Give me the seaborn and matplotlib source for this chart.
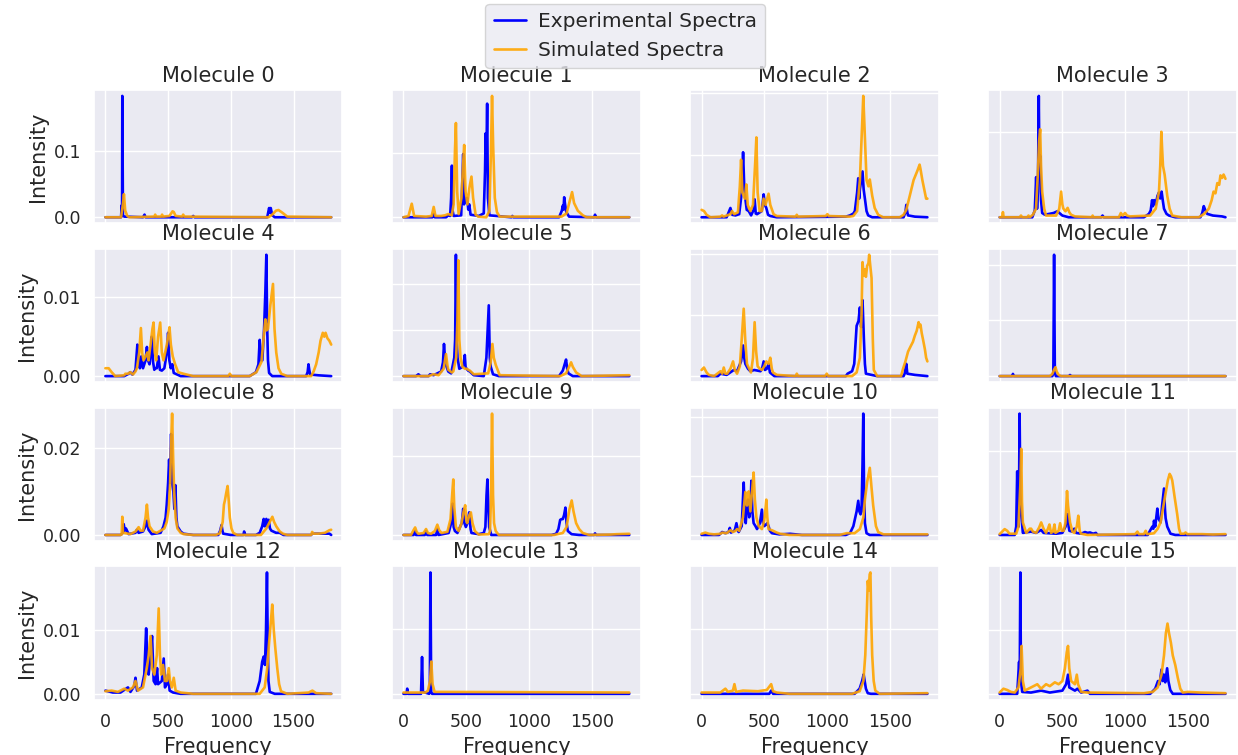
import matplotlib
matplotlib.use('Agg')
import pandas as pd
import matplotlib.pyplot as plt
import seaborn as sns
from matplotlib.ticker import MaxNLocator

# (frequency, intensity) points
exp_0 = [(0, 0), (125, 0), (130, 0.018), (133, 0.002), (135, 0.184), (140, 0.003), (150, 0.001), (300, 0), (312, 0.004), (320, 0), (690, 0), (700, 0.002), (710, 0), (1290, 0), (1305, 0.014), (1312, 0.007), (1318, 0.014), (1330, 0.003), (1350, 0), (1800, 0)]
sim_0 = [(0, 0), (125, 0), (140, 0.02), (148, 0.035), (158, 0.01), (175, 0.002), (190, 0), (390, 0.001), (397, 0.004), (405, 0.001), (445, 0.001), (452, 0.004), (460, 0.001), (510, 0.002), (525, 0.006), (535, 0.009), (545, 0.008), (560, 0.002), (612, 0.001), (620, 0.004), (630, 0.001), (1300, 0), (1330, 0.004), (1360, 0.01), (1380, 0.011), (1410, 0.007), (1450, 0.001), (1800, 0)]

exp_1 = [(0, 0), (230, 0), (241, 0.005), (250, 0), (340, 0), (357, 0.003), (372, 0.002), (380, 0.03), (386, 0.08), (392, 0.01), (400, 0.002), (460, 0.003), (470, 0.06), (476, 0.098), (483, 0.02), (492, 0.03), (500, 0.025), (508, 0.03), (516, 0.012), (524, 0.02), (535, 0.004), (600, 0.002), (640, 0.006), (650, 0.07), (655, 0.13), (660, 0.08), (667, 0.176), (673, 0.03), (685, 0.003), (860, 0), (868, 0.002), (876, 0), (1240, 0), (1262, 0.01), (1270, 0.018), (1276, 0.012), (1281, 0.031), (1288, 0.02), (1298, 0.008), (1320, 0.001), (1520, 0), (1527, 0.004), (1535, 0), (1800, 0)]
sim_1 = [(0, 0), (40, 0.002), (66, 0.021), (85, 0.002), (180, 0.001), (225, 0.002), (241, 0.016), (255, 0.002), (300, 0.002), (330, 0.003), (357, 0.005), (385, 0.003), (400, 0.02), (410, 0.1), (418, 0.146), (428, 0.04), (440, 0.005), (462, 0.03), (475, 0.08), (484, 0.112), (495, 0.04), (510, 0.02), (525, 0.045), (542, 0.063), (555, 0.03), (575, 0.004), (595, 0.001), (660, 0), (685, 0.01), (697, 0.1), (706, 0.188), (715, 0.11), (728, 0.03), (745, 0.008), (767, 0.001), (1260, 0.001), (1300, 0.006), (1325, 0.025), (1344, 0.039), (1360, 0.022), (1390, 0.01), (1430, 0.003), (1460, 0), (1800, 0)]

exp_2 = [(0, 0), (200, 0), (230, 0.015), (245, 0.004), (270, 0.003), (300, 0.005), (320, 0.04), (331, 0.105), (340, 0.05), (349, 0.03), (360, 0.012), (376, 0.01), (395, 0.003), (415, 0.012), (423, 0.029), (432, 0.006), (442, 0.005), (480, 0.01), (495, 0.037), (505, 0.02), (516, 0.015), (530, 0.004), (548, 0.002), (600, 0), (1150, 0.001), (1183, 0.003), (1210, 0.006), (1222, 0.01), (1240, 0.04), (1249, 0.063), (1256, 0.03), (1262, 0.045), (1283, 0.074), (1292, 0.045), (1302, 0.03), (1315, 0.01), (1328, 0.003), (1360, 0), (1610, 0), (1625, 0.008), (1632, 0.02), (1640, 0.008), (1646, 0.003), (1700, 0.001), (1800, 0)]
sim_2 = [(0, 0.012), (20, 0.01), (40, 0.004), (71, 0), (150, 0.001), (164, 0.003), (175, 0.001), (230, 0.005), (243, 0.01), (260, 0.005), (290, 0.008), (305, 0.05), (315, 0.093), (325, 0.04), (345, 0.03), (357, 0.053), (368, 0.02), (389, 0.01), (410, 0.02), (428, 0.09), (437, 0.129), (447, 0.04), (463, 0.01), (480, 0.01), (495, 0.03), (510, 0.02), (534, 0.038), (548, 0.02), (574, 0.005), (600, 0.002), (750, 0.001), (759, 0.004), (768, 0.001), (990, 0.002), (1003, 0.005), (1015, 0.002), (1180, 0.001), (1209, 0.002), (1240, 0.01), (1262, 0.06), (1280, 0.15), (1289, 0.196), (1298, 0.15), (1315, 0.06), (1330, 0.05), (1341, 0.061), (1360, 0.035), (1380, 0.015), (1408, 0.004), (1447, 0), (1580, 0), (1610, 0.004), (1632, 0.012), (1660, 0.035), (1690, 0.06), (1720, 0.075), (1738, 0.085), (1745, 0.078), (1760, 0.06), (1775, 0.045), (1790, 0.03), (1800, 0.03)]

exp_3 = [(0, 0), (260, 0), (280, 0.008), (291, 0.047), (298, 0.01), (305, 0.03), (312, 0.142), (317, 0.06), (323, 0.072), (330, 0.02), (339, 0.005), (360, 0.003), (397, 0.004), (430, 0.005), (460, 0.007), (476, 0.005), (500, 0.002), (550, 0), (810, 0), (820, 0.002), (830, 0), (1150, 0), (1190, 0.004), (1204, 0.008), (1215, 0.02), (1222, 0.013), (1232, 0.02), (1244, 0.015), (1258, 0.025), (1270, 0.029), (1280, 0.022), (1291, 0.03), (1300, 0.02), (1310, 0.01), (1330, 0.004), (1350, 0.002), (1400, 0), (1600, 0), (1615, 0.005), (1627, 0.013), (1640, 0.008), (1654, 0.004), (1700, 0.002), (1773, 0.001), (1800, 0)]
sim_3 = [(0, 0), (20, 0), (26, 0.006), (32, 0), (160, 0), (170, 0.002), (180, 0), (220, 0), (230, 0.002), (240, 0), (265, 0.003), (290, 0.01), (304, 0.05), (315, 0.09), (323, 0.103), (330, 0.06), (339, 0.03), (355, 0.01), (370, 0.002), (450, 0.002), (475, 0.01), (490, 0.03), (500, 0.015), (508, 0.01), (525, 0.007), (542, 0.011), (555, 0.006), (569, 0.003), (600, 0.001), (735, 0), (741, 0.002), (748, 0), (950, 0), (966, 0.005), (980, 0.002), (1000, 0.005), (1015, 0.002), (1040, 0.001), (1200, 0.002), (1244, 0.01), (1270, 0.03), (1280, 0.06), (1289, 0.1), (1295, 0.08), (1302, 0.06), (1315, 0.05), (1336, 0.025), (1355, 0.01), (1376, 0.002), (1450, 0), (1587, 0), (1630, 0.004), (1667, 0.01), (1690, 0.02), (1705, 0.03), (1720, 0.028), (1735, 0.04), (1750, 0.038), (1760, 0.049), (1773, 0.046), (1785, 0.05), (1800, 0.045)]

exp_4 = [(0, 0), (150, 0), (185, 0.0003), (198, 0.0005), (215, 0.0002), (240, 0.0008), (255, 0.004), (265, 0.0025), (275, 0.001), (286, 0.0025), (300, 0.001), (320, 0.002), (331, 0.0037), (340, 0.002), (352, 0.0015), (362, 0.003), (370, 0.005), (380, 0.0018), (390, 0.0008), (397, 0.001), (410, 0.001), (423, 0.0025), (435, 0.0008), (450, 0.0007), (470, 0.001), (490, 0.003), (500, 0.0055), (510, 0.002), (521, 0.001), (534, 0.0015), (545, 0.0004), (600, 0), (1150, 0), (1200, 0.0005), (1220, 0.0015), (1230, 0.0046), (1240, 0.002), (1251, 0.002), (1265, 0.006), (1275, 0.0106), (1283, 0.0154), (1290, 0.006), (1296, 0.002), (1305, 0.0004), (1330, 0), (1600, 0), (1612, 0.0005), (1619, 0.0015), (1625, 0.0008), (1632, 0.0002), (1700, 0.0001), (1800, 0)]
sim_4 = [(0, 0.001), (26, 0.001), (50, 0.0005), (79, 0), (150, 0.0001), (159, 0.0003), (180, 0.0003), (198, 0.0005), (220, 0.0002), (240, 0.0006), (251, 0.001), (270, 0.003), (283, 0.0061), (293, 0.003), (304, 0.002), (320, 0.0025), (335, 0.003), (344, 0.002), (360, 0.004), (375, 0.006), (384, 0.0068), (394, 0.003), (405, 0.002), (420, 0.005), (437, 0.0068), (450, 0.003), (463, 0.002), (490, 0.004), (500, 0.005), (511, 0.0062), (522, 0.004), (537, 0.0025), (556, 0.0015), (580, 0.0005), (622, 0.0003), (700, 0), (980, 0), (992, 0.0003), (1005, 0), (1150, 0), (1204, 0.0005), (1244, 0.0018), (1262, 0.005), (1275, 0.0072), (1285, 0.0058), (1296, 0.006), (1315, 0.009), (1336, 0.0117), (1348, 0.006), (1362, 0.003), (1380, 0.001), (1402, 0.0003), (1450, 0), (1640, 0), (1660, 0.0006), (1680, 0.0015), (1700, 0.003), (1715, 0.0045), (1733, 0.0055), (1745, 0.005), (1755, 0.0055), (1770, 0.0048), (1785, 0.0045), (1800, 0.004)]

exp_5 = [(0, 0), (100, 0), (119, 0.0002), (135, 0), (200, 0), (212, 0.0002), (240, 0.0001), (300, 0.0005), (315, 0.0015), (323, 0.0035), (331, 0.002), (339, 0.0012), (357, 0.0005), (380, 0.0003), (405, 0.002), (412, 0.004), (418, 0.0132), (424, 0.004), (431, 0.002), (445, 0.0008), (470, 0.001), (482, 0.0015), (489, 0.0023), (495, 0.001), (503, 0.0008), (515, 0.0006), (529, 0.0005), (560, 0.0001), (640, 0), (661, 0.002), (680, 0.0077), (688, 0.002), (696, 0.001), (714, 0.0002), (760, 0), (1240, 0), (1270, 0.0006), (1283, 0.0012), (1296, 0.0018), (1305, 0.0008), (1315, 0.0003), (1350, 0), (1800, 0)]
sim_5 = [(0, 0), (200, 0), (238, 0.0002), (280, 0.0001), (320, 0.0008), (339, 0.0024), (350, 0.0012), (357, 0.0007), (385, 0.0004), (397, 0.0005), (420, 0.002), (430, 0.006), (437, 0.0126), (445, 0.004), (455, 0.002), (470, 0.001), (490, 0.0008), (503, 0.0008), (515, 0.0007), (529, 0.0006), (560, 0.0002), (675, 0.0003), (695, 0.0015), (709, 0.0035), (720, 0.002), (736, 0.0012), (767, 0.0001), (1250, 0), (1296, 0.0003), (1320, 0.001), (1336, 0.0015), (1350, 0.001), (1376, 0.0004), (1420, 0), (1800, 0.0001)]

exp_6 = [(0, 0), (130, 0), (151, 0.0002), (200, 0.0001), (257, 0.0005), (283, 0.0004), (315, 0.0012), (331, 0.0025), (340, 0.0015), (349, 0.001), (370, 0.0006), (389, 0.0004), (420, 0.0005), (470, 0.0004), (482, 0.0006), (495, 0.0012), (505, 0.0005), (520, 0.0006), (534, 0.001), (545, 0.0003), (580, 0), (1150, 0), (1164, 0.0002), (1200, 0.0004), (1217, 0.001), (1236, 0.0041), (1251, 0.0045), (1262, 0.0056), (1272, 0.004), (1283, 0.0062), (1294, 0.003), (1302, 0.001), (1310, 0.0002), (1400, 0), (1610, 0), (1619, 0.0002), (1632, 0.001), (1640, 0.0002), (1700, 0.0001), (1800, 0)]
sim_6 = [(0, 0.0005), (19, 0.0007), (40, 0.0003), (58, 0.0001), (100, 0), (151, 0.0004), (165, 0.0002), (177, 0.0007), (190, 0.0002), (204, 0.0002), (230, 0.0006), (251, 0.0012), (265, 0.0005), (283, 0.0002), (305, 0.0008), (320, 0.003), (336, 0.0055), (348, 0.003), (362, 0.001), (394, 0.0003), (410, 0.0015), (423, 0.0044), (435, 0.002), (447, 0.0008), (465, 0.0006), (481, 0.0005), (500, 0.0008), (516, 0.0012), (534, 0.001), (548, 0.0015), (560, 0.0006), (569, 0.0003), (600, 0.0001), (750, 0), (759, 0.0002), (770, 0), (985, 0), (998, 0.0002), (1010, 0), (1200, 0), (1236, 0.0003), (1262, 0.0015), (1275, 0.005), (1283, 0.0093), (1292, 0.0082), (1302, 0.0087), (1310, 0.0081), (1320, 0.009), (1330, 0.0092), (1336, 0.0099), (1345, 0.009), (1355, 0.008), (1365, 0.003), (1373, 0.0005), (1400, 0), (1590, 0), (1606, 0.0006), (1625, 0.0012), (1646, 0.002), (1665, 0.0024), (1685, 0.0028), (1700, 0.0033), (1715, 0.0037), (1730, 0.0044), (1738, 0.004), (1745, 0.0042), (1755, 0.0035), (1765, 0.003), (1780, 0.0022), (1790, 0.0015), (1800, 0.0012)]

exp_7 = [(0, 0), (100, 0), (106, 0.0002), (112, 0), (420, 0), (428, 0.0003), (434, 0.0109), (440, 0.0003), (448, 0), (555, 0), (561, 0.0001), (567, 0), (1800, 0)]
sim_7 = [(0, 0), (400, 0), (420, 0.0002), (435, 0.0006), (445, 0.0008), (455, 0.0004), (471, 0.0001), (490, 0), (1800, 0)]

exp_8 = [(0, 0), (120, 0), (140, 0.0005), (146, 0.0025), (155, 0.001), (164, 0.0015), (185, 0.0002), (240, 0.0005), (251, 0.0012), (265, 0.0005), (300, 0.0008), (320, 0.002), (331, 0.0033), (344, 0.0012), (370, 0.0002), (440, 0.0005), (463, 0.002), (480, 0.004), (489, 0.007), (500, 0.012), (508, 0.0174), (515, 0.012), (524, 0.0233), (532, 0.012), (542, 0.01), (550, 0.006), (558, 0.0115), (566, 0.004), (574, 0.002), (600, 0.0008), (622, 0.0003), (700, 0), (900, 0), (915, 0.001), (926, 0.0023), (933, 0.001), (939, 0.0003), (1000, 0), (1100, 0), (1106, 0.0008), (1115, 0), (1200, 0), (1230, 0.0005), (1250, 0.002), (1262, 0.0037), (1270, 0.002), (1283, 0.0037), (1292, 0.002), (1302, 0.0035), (1312, 0.0015), (1323, 0.001), (1360, 0.0005), (1389, 0.0005), (1420, 0), (1640, 0), (1648, 0.0003), (1700, 0.0003), (1786, 0.0003), (1800, 0)]
sim_8 = [(0, 0), (120, 0), (130, 0.0001), (135, 0.0042), (140, 0.0005), (200, 0.0002), (240, 0.0008), (265, 0.0018), (280, 0.001), (300, 0.001), (320, 0.004), (331, 0.007), (340, 0.004), (352, 0.002), (380, 0.0008), (410, 0.0005), (470, 0.0015), (489, 0.003), (505, 0.006), (516, 0.012), (525, 0.022), (532, 0.028), (540, 0.018), (548, 0.01), (560, 0.004), (574, 0.0015), (600, 0.0005), (622, 0.0002), (700, 0), (880, 0), (913, 0.0004), (935, 0.003), (945, 0.007), (953, 0.008), (962, 0.0095), (974, 0.0113), (983, 0.008), (992, 0.004), (1005, 0.0015), (1019, 0.0005), (1050, 0), (1240, 0), (1283, 0.0015), (1310, 0.003), (1331, 0.0042), (1345, 0.003), (1362, 0.002), (1390, 0.0008), (1415, 0.0003), (1450, 0), (1640, 0), (1648, 0.0007), (1660, 0.0003), (1700, 0.0003), (1750, 0.0005), (1786, 0.0011), (1800, 0.0012)]

exp_9 = [(0, 0), (80, 0), (93, 0.001), (100, 0), (170, 0), (180, 0.001), (190, 0), (260, 0), (270, 0.0015), (280, 0), (360, 0.0005), (380, 0.003), (392, 0.0079), (400, 0.002), (410, 0.001), (430, 0.0005), (465, 0.003), (476, 0.0066), (486, 0.003), (497, 0.002), (510, 0.003), (524, 0.0057), (535, 0.0015), (542, 0.0005), (600, 0.0002), (640, 0.0005), (653, 0.002), (662, 0.01), (669, 0.014), (676, 0.008), (683, 0.002), (700, 0), (1180, 0), (1217, 0.0003), (1235, 0.0015), (1249, 0.0038), (1260, 0.004), (1270, 0.004), (1280, 0.005), (1291, 0.0069), (1300, 0.003), (1310, 0.001), (1340, 0.0002), (1400, 0), (1520, 0), (1527, 0.0004), (1535, 0), (1800, 0)]
sim_9 = [(0, 0), (60, 0), (80, 0.0012), (93, 0.0019), (105, 0.0008), (119, 0.0003), (160, 0.0005), (180, 0.0015), (195, 0.0005), (220, 0.0003), (250, 0.001), (270, 0.0026), (285, 0.0012), (304, 0.0005), (350, 0.0008), (375, 0.004), (390, 0.011), (397, 0.014), (405, 0.007), (418, 0.002), (440, 0.001), (463, 0.003), (480, 0.006), (492, 0.0075), (500, 0.004), (508, 0.003), (525, 0.005), (537, 0.0057), (550, 0.003), (569, 0.001), (600, 0.0001), (680, 0.0002), (690, 0.001), (698, 0.01), (706, 0.0306), (714, 0.01), (722, 0.003), (735, 0.001), (760, 0), (1200, 0), (1270, 0.0005), (1300, 0.002), (1323, 0.0065), (1341, 0.0087), (1355, 0.006), (1376, 0.003), (1400, 0.0015), (1429, 0.0005), (1480, 0), (1650, 0.0001), (1700, 0.0002), (1800, 0.0003)]

exp_10 = [(0, 0), (140, 0), (164, 0.0005), (190, 0.0003), (215, 0.0005), (225, 0.0012), (235, 0.0004), (265, 0.0008), (278, 0.002), (290, 0.0007), (296, 0.0005), (320, 0.0015), (336, 0.0089), (343, 0.004), (352, 0.002), (362, 0.005), (370, 0.006), (380, 0.003), (390, 0.0045), (397, 0.0092), (405, 0.004), (415, 0.002), (430, 0.0015), (442, 0.001), (465, 0.002), (481, 0.0043), (490, 0.002), (500, 0.0015), (515, 0.0018), (524, 0.002), (534, 0.0015), (545, 0.0007), (561, 0.0003), (620, 0.0001), (706, 0.0002), (800, 0), (1150, 0), (1183, 0.0003), (1210, 0.0015), (1236, 0.004), (1249, 0.0058), (1258, 0.004), (1267, 0.0035), (1275, 0.004), (1283, 0.012), (1289, 0.0206), (1295, 0.008), (1302, 0.002), (1315, 0.0003), (1340, 0), (1800, 0)]
sim_10 = [(0, 0.0002), (30, 0.0004), (60, 0.0002), (100, 0.0001), (150, 0.0002), (164, 0.0004), (200, 0.0003), (230, 0.0008), (250, 0.0005), (270, 0.0007), (283, 0.001), (300, 0.0007), (330, 0.003), (349, 0.0073), (355, 0.006), (362, 0.005), (370, 0.006), (376, 0.0074), (389, 0.004), (405, 0.008), (415, 0.0106), (425, 0.006), (437, 0.003), (455, 0.0015), (481, 0.001), (500, 0.0025), (508, 0.004), (516, 0.006), (524, 0.003), (534, 0.001), (561, 0.0008), (600, 0.0004), (627, 0.0002), (700, 0), (1100, 0), (1156, 0.0003), (1220, 0.0003), (1262, 0.001), (1290, 0.003), (1302, 0.006), (1320, 0.009), (1341, 0.0114), (1355, 0.008), (1368, 0.005), (1390, 0.0015), (1408, 0.0005), (1450, 0.0001), (1800, 0.0001)]

exp_11 = [(0, 0), (120, 0), (132, 0.002), (140, 0.0152), (145, 0.005), (151, 0.002), (155, 0.012), (159, 0.029), (165, 0.01), (172, 0.005), (185, 0.0005), (250, 0.0008), (290, 0.0005), (331, 0.0012), (350, 0.0005), (450, 0.0003), (500, 0.0005), (525, 0.002), (542, 0.005), (550, 0.002), (556, 0.001), (580, 0.0008), (595, 0.0015), (610, 0.0005), (650, 0.0003), (680, 0.0007), (701, 0.0005), (720, 0.0006), (745, 0.0003), (767, 0.0005), (780, 0), (1180, 0), (1217, 0.002), (1225, 0.0015), (1230, 0.0034), (1240, 0.002), (1257, 0.0063), (1265, 0.004), (1283, 0.003), (1295, 0.007), (1310, 0.0111), (1318, 0.006), (1323, 0.004), (1336, 0.002), (1362, 0.0003), (1400, 0), (1800, 0)]
sim_11 = [(0, 0.0002), (20, 0.0008), (40, 0.0014), (60, 0.001), (79, 0.0003), (132, 0.0003), (150, 0.002), (165, 0.012), (172, 0.0206), (178, 0.008), (185, 0.003), (212, 0.0005), (240, 0.0015), (251, 0.0015), (265, 0.0008), (291, 0.0005), (315, 0.0018), (331, 0.003), (350, 0.0015), (370, 0.0005), (385, 0.0015), (397, 0.0025), (410, 0.0005), (425, 0.0008), (437, 0.0025), (445, 0.0005), (470, 0.001), (482, 0.0028), (495, 0.001), (510, 0.001), (524, 0.0028), (530, 0.006), (537, 0.0105), (545, 0.007), (561, 0.003), (580, 0.0008), (595, 0.0005), (615, 0.002), (627, 0.0046), (638, 0.001), (648, 0.0003), (700, 0), (1080, 0.0002), (1098, 0.0008), (1110, 0.0002), (1150, 0.0002), (1164, 0.001), (1175, 0.0002), (1230, 0.0004), (1260, 0.0015), (1283, 0.003), (1300, 0.006), (1323, 0.01), (1340, 0.013), (1355, 0.0146), (1366, 0.014), (1376, 0.013), (1395, 0.009), (1415, 0.005), (1430, 0.0015), (1442, 0.0003), (1470, 0.0003), (1482, 0.0006), (1495, 0.0002), (1614, 0.0002), (1700, 0.0001), (1800, 0.0002)]

exp_12 = [(0, 0.0005), (60, 0.0002), (120, 0.0002), (180, 0.001), (200, 0.0003), (230, 0.0012), (240, 0.0025), (252, 0.0005), (290, 0.001), (310, 0.003), (325, 0.0102), (335, 0.005), (345, 0.003), (360, 0.006), (372, 0.009), (385, 0.002), (400, 0.0015), (412, 0.004), (420, 0.0015), (450, 0.002), (465, 0.0055), (475, 0.001), (490, 0.0015), (500, 0.003), (512, 0.0005), (540, 0.0002), (600, 0), (1200, 0), (1230, 0.002), (1250, 0.005), (1262, 0.0058), (1272, 0.0045), (1280, 0.0095), (1288, 0.0189), (1294, 0.008), (1300, 0.002), (1310, 0.0003), (1350, 0), (1800, 0)]
sim_12 = [(0, 0.0004), (50, 0.0005), (100, 0.0003), (150, 0.0008), (180, 0.0005), (220, 0.001), (240, 0.002), (260, 0.0005), (300, 0.001), (330, 0.004), (345, 0.006), (360, 0.009), (372, 0.004), (390, 0.003), (410, 0.006), (425, 0.0133), (435, 0.006), (445, 0.003), (460, 0.0045), (475, 0.002), (490, 0.002), (505, 0.004), (515, 0.002), (530, 0.001), (545, 0.0025), (560, 0.0005), (600, 0.0002), (700, 0), (1230, 0), (1270, 0.001), (1290, 0.004), (1305, 0.008), (1318, 0.011), (1330, 0.0139), (1342, 0.01), (1355, 0.007), (1370, 0.004), (1385, 0.0015), (1400, 0.0004), (1450, 0), (1620, 0.0002), (1650, 0.0005), (1680, 0.0001), (1800, 0)]

exp_13 = [(0, 0), (24, 0), (30, 0.0008), (36, 0), (140, 0), (148, 0.0057), (155, 0.0003), (205, 0), (210, 0.0003), (215, 0.0188), (221, 0.0003), (228, 0), (1800, 0)]
sim_13 = [(0, 0.0002), (175, 0.0002), (195, 0.0005), (212, 0.002), (222, 0.005), (232, 0.0015), (248, 0.0003), (1800, 0.0002)]

exp_14 = [(0, 0), (540, 0), (555, 0.0005), (570, 0), (1220, 0), (1260, 0.0008), (1280, 0.002), (1292, 0.003), (1300, 0.002), (1310, 0.0008), (1325, 0.0001), (1350, 0), (1800, 0)]
sim_14 = [(0, 0.0002), (150, 0.0002), (190, 0.0008), (210, 0.0003), (250, 0.0005), (262, 0.0015), (275, 0.0003), (330, 0.0005), (450, 0.0004), (520, 0.0006), (555, 0.0015), (570, 0.0004), (600, 0.0002), (700, 0), (1200, 0), (1260, 0.0004), (1290, 0.002), (1305, 0.006), (1318, 0.013), (1325, 0.0175), (1332, 0.016), (1340, 0.0185), (1346, 0.0188), (1352, 0.012), (1360, 0.006), (1372, 0.002), (1385, 0.0005), (1420, 0), (1800, 0.0001)]

exp_15 = [(0, 0), (140, 0), (155, 0.005), (160, 0.002), (165, 0.019), (170, 0.002), (180, 0.0003), (250, 0.0002), (330, 0.0005), (400, 0.0002), (500, 0.0005), (530, 0.0015), (545, 0.003), (555, 0.001), (600, 0.0005), (620, 0.0008), (650, 0.0002), (700, 0.0005), (720, 0), (1200, 0), (1240, 0.0008), (1262, 0.002), (1275, 0.0015), (1290, 0.0038), (1300, 0.002), (1310, 0.003), (1320, 0.0018), (1335, 0.004), (1345, 0.002), (1360, 0.0006), (1380, 0), (1800, 0)]
sim_15 = [(0, 0.0002), (30, 0.0008), (60, 0.0006), (90, 0.0003), (120, 0.0002), (150, 0.001), (168, 0.004), (175, 0.0075), (185, 0.002), (200, 0.0005), (250, 0.001), (300, 0.0015), (330, 0.0008), (370, 0.0015), (400, 0.0012), (440, 0.0018), (470, 0.0015), (500, 0.002), (520, 0.004), (535, 0.0065), (545, 0.0075), (555, 0.004), (570, 0.002), (600, 0.0015), (615, 0.003), (625, 0.0015), (650, 0.0003), (700, 0.0002), (1150, 0.0001), (1220, 0.0003), (1260, 0.001), (1290, 0.003), (1310, 0.006), (1325, 0.0095), (1338, 0.011), (1350, 0.0095), (1365, 0.008), (1380, 0.006), (1400, 0.0045), (1420, 0.0025), (1440, 0.0008), (1460, 0.0002), (1500, 0.0003), (1600, 0.0002), (1800, 0.0001)]

experimental = [exp_0, exp_1, exp_2, exp_3, exp_4, exp_5, exp_6, exp_7,
                exp_8, exp_9, exp_10, exp_11, exp_12, exp_13, exp_14, exp_15]
simulated = [sim_0, sim_1, sim_2, sim_3, sim_4, sim_5, sim_6, sim_7,
             sim_8, sim_9, sim_10, sim_11, sim_12, sim_13, sim_14, sim_15]
x_ticks = [0, 500, 1000, 1500]

sns.set_theme(style='darkgrid')
plt.rcParams['font.family'] = ['DejaVu Sans']

fig, axes = plt.subplots(4, 4, figsize=(12.38, 7.55), sharex=True)
fig.subplots_adjust(left=0.076, right=0.999, top=0.881, bottom=0.073, wspace=0.2, hspace=0.19)

for i, ax in enumerate(axes.flat):
    row, col = divmod(i, 4)
    exp_df = pd.DataFrame(experimental[i], columns=['Frequency', 'Intensity'])
    sim_df = pd.DataFrame(simulated[i], columns=['Frequency', 'Intensity'])
    sns.lineplot(data=exp_df, x='Frequency', y='Intensity', ax=ax, color='blue',
                 linewidth=1.9, label='Experimental Spectra', legend=False,
                 sort=False, estimator=None)
    sns.lineplot(data=sim_df, x='Frequency', y='Intensity', ax=ax, color='orange',
                 linewidth=1.9, alpha=0.9, label='Simulated Spectra', legend=False,
                 sort=False, estimator=None)
    ax.set_title('Molecule {}'.format(i), fontsize=15)
    ax.set_xticks(x_ticks)
    ax.yaxis.set_major_locator(MaxNLocator(nbins=3, steps=[1, 2, 2.5, 5, 10]))
    ax.tick_params(labelsize=12.5)
    ax.set_xlabel('Frequency' if row == 3 else '', fontsize=15)
    ax.set_ylabel('Intensity' if col == 0 else '', fontsize=15)
    if col > 0:
        ax.tick_params(labelleft=False)

handles = axes[0, 0].get_lines()[:2]
fig.legend(handles, ['Experimental Spectra', 'Simulated Spectra'],
           loc='upper center', bbox_to_anchor=(0.505, 0.9947), borderaxespad=0,
           fontsize=14.5, handlelength=1.6, handletextpad=0.6)

fig.savefig('out.png', dpi=100)
